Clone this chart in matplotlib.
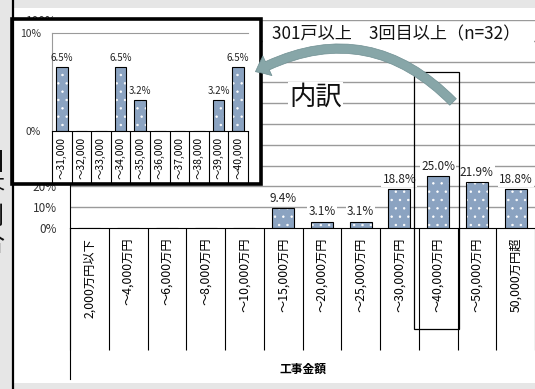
import matplotlib
matplotlib.use("Agg")
import matplotlib.pyplot as plt
from matplotlib.patches import Rectangle, FancyArrowPatch
from matplotlib.lines import Line2D

plt.rcParams['font.family'] = ['Noto Sans CJK JP', 'DejaVu Sans']
plt.rcParams['hatch.linewidth'] = 0.5

# ---- data ----
categories = ["2,000万円以下", "～4,000万円", "～6,000万円", "～8,000万円", "～10,000万円",
              "～15,000万円", "～20,000万円", "～25,000万円", "～30,000万円", "～40,000万円",
              "～50,000万円", "50,000万円超"]
values = [0, 0, 0, 0, 0, 9.4, 3.1, 3.1, 18.8, 25.0, 21.9, 18.8]

sub_categories = ["～31,000", "～32,000", "～33,000", "～34,000", "～35,000",
                  "～36,000", "～37,000", "～38,000", "～39,000", "～40,000"]
sub_values = [6.5, 0, 0, 6.5, 3.2, 0, 0, 0, 3.2, 6.5]

yticks_main = list(range(0, 101, 10))
title = "301戸以上　3回目以上（n=32）"
inset_label = "内訳"
xlabel = "工事金額"
side_text = "回\n答\n割\n合"

W, H = 535, 389
fig = plt.figure(figsize=(W / 100, H / 100), dpi=100, facecolor='#e6e6e6')

def fx(x):
    return x / W

def fy(y):
    return 1 - y / H

BAR = '#8ba3c1'
GRID = '#9a9a9a'

# white panel
fig.add_artist(Rectangle((fx(14), fy(383)), fx(535 - 14), (383 - 8) / H,
                         transform=fig.transFigure, facecolor='white', edgecolor='none', zorder=-10))

rect_main = [fx(70), fy(228), fx(535 - 70), (228 - 20) / H]

# ---- background axes carrying the gridlines ----
axg = fig.add_axes(rect_main, zorder=-1)
axg.set_xlim(-0.5, 11.5)
axg.set_ylim(0, 100)
axg.hlines(yticks_main[1:], -0.5, 11.5, colors=GRID, linewidth=1.0)
axg.axis('off')

# ---- main axes ----
ax = fig.add_axes(rect_main, zorder=0)
ax.patch.set_visible(False)
ax.set_xlim(-0.5, 11.5)
ax.set_ylim(0, 100)
ax.set_yticks(yticks_main)
ax.set_yticklabels([f"{v}%" for v in yticks_main], fontsize=8.5, color='#333333')
ax.tick_params(axis='y', length=0, pad=9.4)
for s in ['top', 'right']:
    ax.spines[s].set_visible(False)
ax.spines['left'].set_color('black')
ax.spines['left'].set_linewidth(0.8)
ax.spines['bottom'].set_linewidth(0.8)

xs = list(range(len(categories)))
ax.set_xticks(xs)
ax.set_xticklabels(categories, rotation=90, fontsize=8.8)
ax.tick_params(axis='x', which='both', length=0, pad=7)
# category divider lines below the axis
ax.vlines([i - 0.5 for i in range(len(categories) + 1)], -(350 - 228) / 208, 0,
          transform=ax.get_xaxis_transform(), colors='black', linewidth=0.8, clip_on=False)

ax.bar(xs, values, width=0.57, color=BAR, edgecolor='white', hatch='..', linewidth=0, zorder=2)
ax.bar(xs, values, width=0.57, fill=False, edgecolor='black', linewidth=0.8, zorder=3)
for i, v in enumerate(values):
    if v > 0:
        ax.text(i, v + 1.6, f"{v:.1f}%", ha='center', va='bottom', fontsize=8.5, color='#222222',
                zorder=4, bbox=dict(facecolor='white', edgecolor='none', pad=0.8))

# left spine extension
fig.add_artist(Line2D([fx(70), fx(70)], [fy(228), fy(379)], transform=fig.transFigure,
                      color='black', lw=0.8, zorder=0.5))
fig.text(fx(303), fy(369), xlabel, ha='center', va='center', fontsize=8.5, fontweight='bold')

# partial side text and black separator
fig.text(fx(4), fy(150), side_text, ha='right', va='top', fontsize=18, linespacing=1.05, color='#111111')
fig.add_artist(Line2D([fx(13), fx(13)], [0, 1], transform=fig.transFigure, color='black', lw=1.6, zorder=5))

# ---- title with white backing ----
fig.add_artist(Rectangle((fx(263), fy(52)), fx(534 - 263), (52 - 27) / H, transform=fig.transFigure,
                         facecolor='white', edgecolor='none', zorder=1))
fig.text(fx(272), fy(34), title, ha='left', va='center', fontsize=12.3, color='#111111', zorder=3)
fig.text(fx(289), fy(97), inset_label, ha='left', va='center', fontsize=19, color='#111111', zorder=3,
         bbox=dict(facecolor='white', edgecolor='none', pad=1))

# highlight rectangle
fig.add_artist(Rectangle((fx(414), fy(329)), fx(459 - 414), (329 - 72) / H, transform=fig.transFigure,
                         fill=False, edgecolor='black', lw=0.9, zorder=4))

# ---- inset ----
fig.add_artist(Rectangle((fx(12), fy(184)), fx(261 - 12), (184 - 19) / H, transform=fig.transFigure,
                         facecolor='white', edgecolor='black', lw=2.6, zorder=2))
axi = fig.add_axes([fx(52), fy(131), 196 / W, 98 / H], zorder=3)
axi.set_xlim(-0.5, 9.5)
axi.set_ylim(0, 10)
axi.set_yticks([0, 10])
axi.set_yticklabels(["0%", "10%"], fontsize=7.5, color='#333333')
axi.tick_params(axis='y', length=0, pad=8)
axi.spines['right'].set_visible(False)
axi.spines['top'].set_color(GRID)
axi.spines['left'].set_color(GRID)
axi.spines['bottom'].set_color('black')
for s in axi.spines.values():
    s.set_linewidth(0.8)
sx = list(range(len(sub_categories)))
axi.set_xticks(sx)
axi.set_xticklabels(sub_categories, rotation=90, fontsize=7.5)
axi.tick_params(axis='x', which='both', length=0, pad=4)
axi.vlines([i - 0.5 for i in range(len(sub_categories) + 1)], -(183 - 131) / 98, 0,
           transform=axi.get_xaxis_transform(), colors='black', linewidth=0.8, clip_on=False)
axi.bar(sx, sub_values, width=0.6, color=BAR, edgecolor='white', hatch='..', linewidth=0, zorder=2)
axi.bar(sx, sub_values, width=0.6, fill=False, edgecolor='black', linewidth=0.8, zorder=3)
for i, v in enumerate(sub_values):
    if v > 0:
        axi.text(i, v + 0.4, f"{v:.1f}%", ha='center', va='bottom', fontsize=7, color='#222222', zorder=4)

# curved arrow
arrow = FancyArrowPatch(posA=(fx(455), fy(104)), posB=(fx(253), fy(73)), transform=fig.transFigure,
                        connectionstyle='arc3,rad=0.38',
                        arrowstyle='simple,head_length=0.8,head_width=1.3,tail_width=0.55',
                        mutation_scale=12, facecolor='#87a6a8', edgecolor='#6f8f92', lw=0.5, zorder=6)
fig.add_artist(arrow)

fig.savefig('out.png', dpi=100, facecolor=fig.get_facecolor())
